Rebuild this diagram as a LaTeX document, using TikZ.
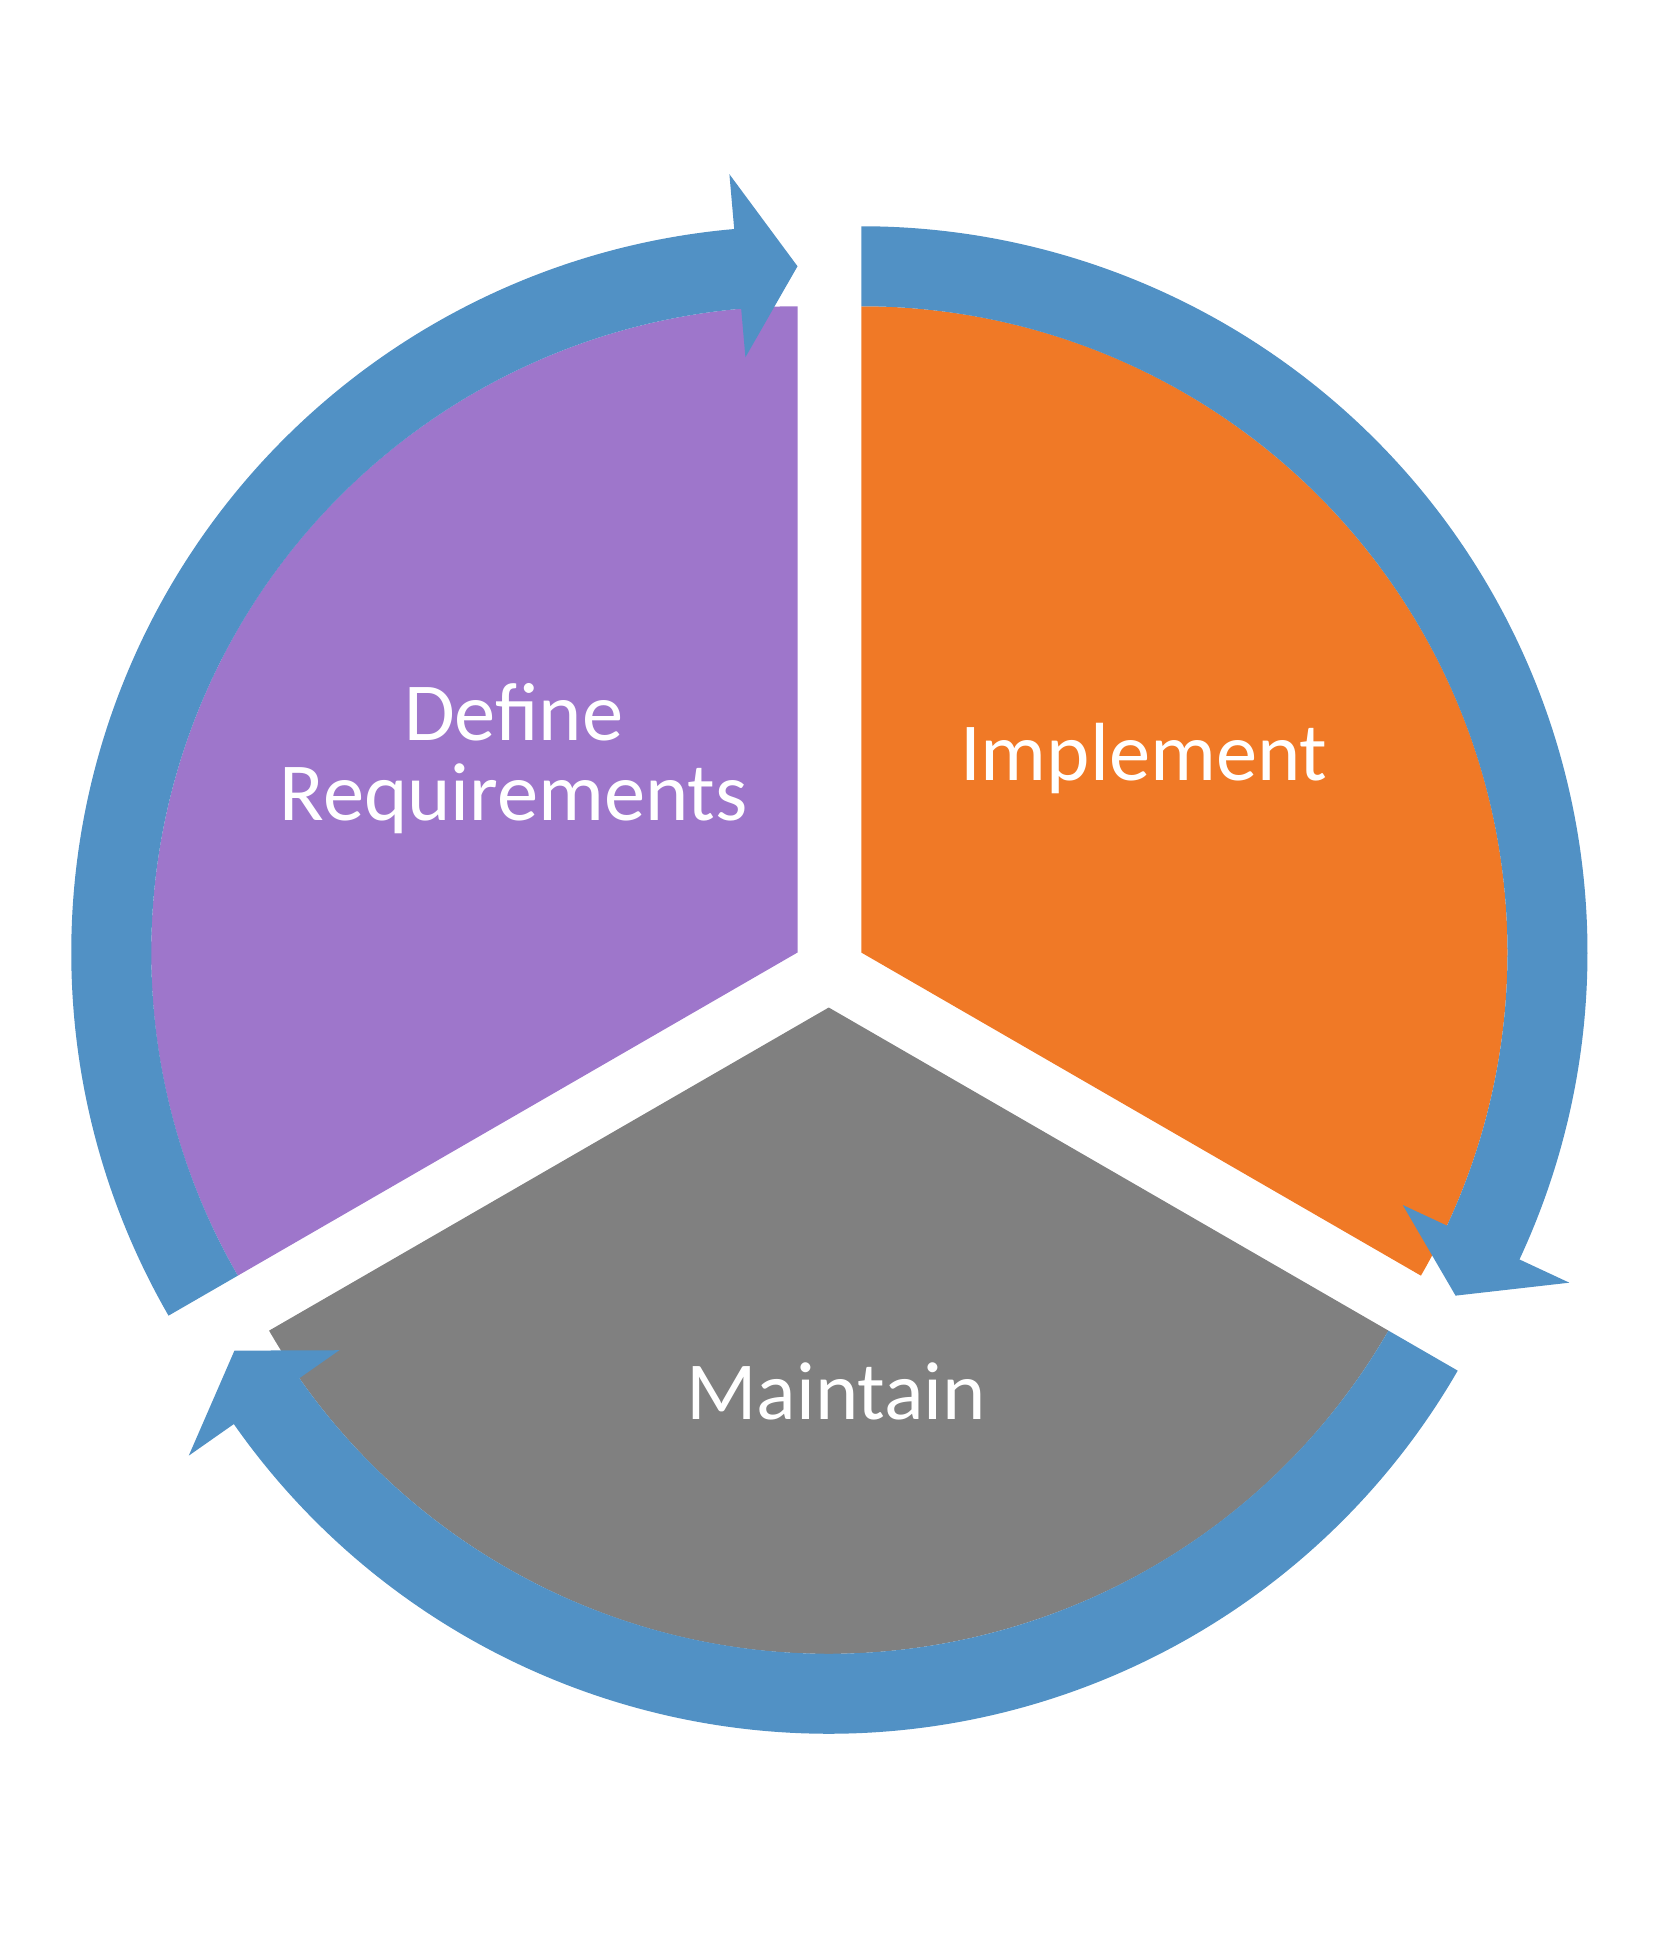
\documentclass[tikz,border=0pt]{standalone}
\usepackage{fontspec}
\setmainfont{Carlito}
\definecolor{ringblue}{HTML}{5191C5}
\definecolor{purp}{HTML}{9E76CB}
\definecolor{oran}{HTML}{F07926}
\definecolor{gry}{HTML}{808080}
\begin{document}
\begin{tikzpicture}[x=1pt,y=-1pt,
  lbl/.style={text=white,font=\fontsize{66}{72}\selectfont,align=center}]
\useasboundingbox (0,0) rectangle (1324,1564);
% sectors and rings: center, start angle (a0), end angle (a1), color
\foreach \cx/\cy/\a/\b/\col in {689/762/90/-30/oran, 638/762/210/90/purp, 663/806/330/210/gry}{
  \begin{scope}[shift={(\cx,\cy)},y=1pt]
    \fill[\col] (0,0) -- (\a:517) arc[start angle=\a,end angle=\b,radius=517] -- cycle;
    \pgfmathsetmacro{\e}{\b+5}
    \fill[ringblue] (\a:581) arc[start angle=\a,end angle=\e,radius=581]
      -- (\e:625) -- (\b:549) -- (\e:478) -- (\e:517)
      arc[start angle=\e,end angle=\a,radius=517] -- cycle;
  \end{scope}
}
\node[lbl] (def) at (411,607) {Define\\[-8pt]Requirements};
\node[lbl] (imp) at (915,607) {Implement};
\node[lbl] (mai) at (669,1113) {Maintain};
\end{tikzpicture}
\end{document}
